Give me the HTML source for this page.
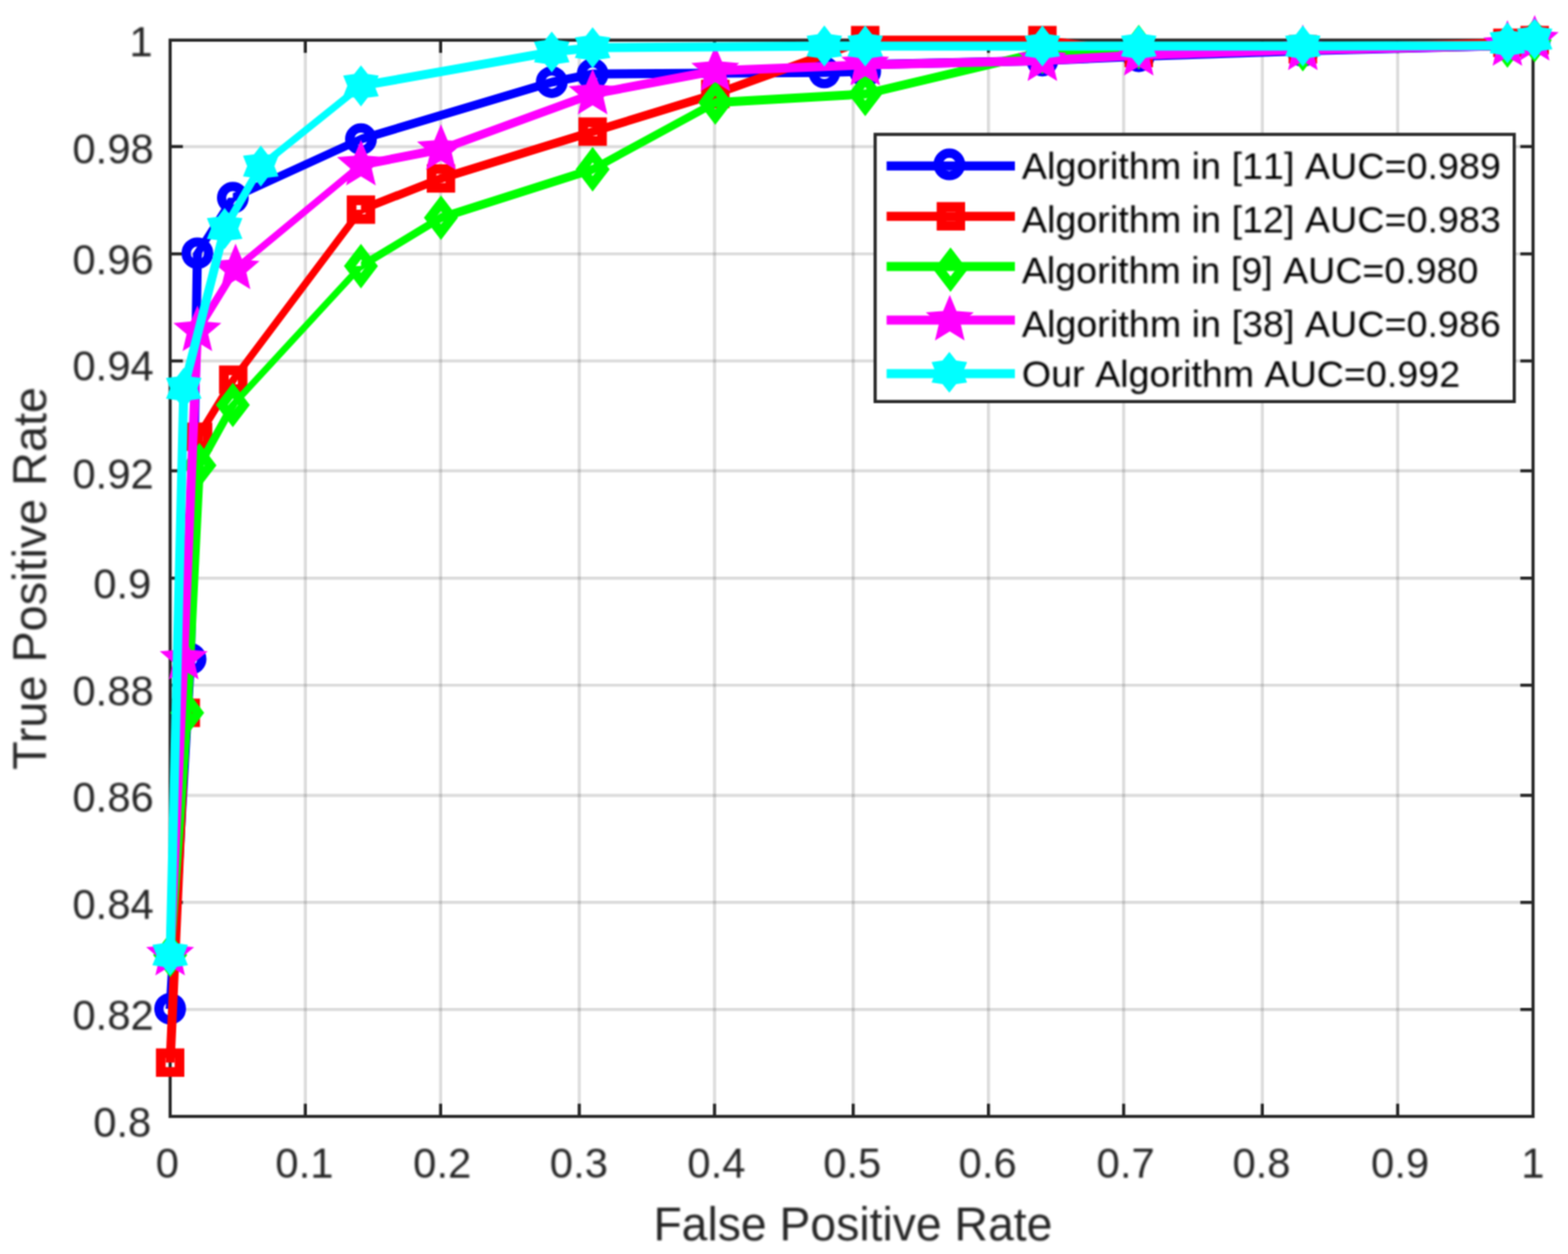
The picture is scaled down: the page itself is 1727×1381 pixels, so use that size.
<!DOCTYPE html>
<html lang="en">
<head>
<meta charset="utf-8">
<title>ROC curves</title>
<style>
html,body{margin:0;padding:0;background:#fff;}
body{width:1727px;height:1381px;overflow:hidden;}
svg{display:block;font-family:"Liberation Sans",Arial,Helvetica,sans-serif;}
.tick text{font-size:46px;}
.lab{font-size:51px;}
.laby{font-size:51.5px;}
.leg{font-size:41.4px;fill:#000;font-kerning:none;}
</style>
</head>
<body>
<svg width="1727" height="1381" viewBox="0 0 1727 1381">
<defs>
<filter id="soft" x="-2%" y="-2%" width="104%" height="104%" color-interpolation-filters="sRGB"><feConvolveMatrix order="3" kernelMatrix="1 2 1 2 4 2 1 2 1" divisor="16" edgeMode="duplicate" preserveAlpha="false"/></filter>
<filter id="tsoft" x="-2%" y="-2%" width="104%" height="104%" color-interpolation-filters="sRGB"><feGaussianBlur stdDeviation="0.9"/></filter>
<g id="m-circle"><circle r="12.4" fill="none" stroke-width="10.2"/></g>
<g id="m-square"><rect x="-10.3" y="-10.3" width="20.6" height="20.6" fill="none" stroke-width="10.7"/></g>
<g id="m-diamond"><polygon points="0,-16 12.2,0 0,16 -12.2,0" fill="none" stroke-width="10.4" stroke-linejoin="miter"/></g>
<g id="m-penta"><polygon points="0.00,-27.80 7.35,-10.11 26.44,-8.59 11.89,3.86 16.34,22.49 0.00,12.50 -16.34,22.49 -11.89,3.86 -26.44,-8.59 -7.35,-10.11" stroke="none"/></g>
<g id="m-hexa"><polygon points="0.00,-22.60 7.50,-12.99 19.57,-11.30 15.00,0.00 19.57,11.30 7.50,12.99 0.00,22.60 -7.50,12.99 -19.57,11.30 -15.00,0.00 -19.57,-11.30 -7.50,-12.99" stroke="none"/></g>
</defs>
<rect width="1727" height="1381" fill="#fff"/>
<g id="plot" filter="url(#soft)">
<g stroke="#262626" stroke-opacity="0.16" stroke-width="3.45" fill="none">
<line x1="336.30" y1="44.2" x2="336.30" y2="1229.5"/>
<line x1="485.30" y1="44.2" x2="485.30" y2="1229.5"/>
<line x1="638.00" y1="44.2" x2="638.00" y2="1229.5"/>
<line x1="787.00" y1="44.2" x2="787.00" y2="1229.5"/>
<line x1="939.70" y1="44.2" x2="939.70" y2="1229.5"/>
<line x1="1088.70" y1="44.2" x2="1088.70" y2="1229.5"/>
<line x1="1237.60" y1="44.2" x2="1237.60" y2="1229.5"/>
<line x1="1390.30" y1="44.2" x2="1390.30" y2="1229.5"/>
<line x1="1539.40" y1="44.2" x2="1539.40" y2="1229.5"/>
<line x1="187.4" y1="1111.70" x2="1688.5" y2="1111.70"/>
<line x1="187.4" y1="993.80" x2="1688.5" y2="993.80"/>
<line x1="187.4" y1="875.90" x2="1688.5" y2="875.90"/>
<line x1="187.4" y1="754.60" x2="1688.5" y2="754.60"/>
<line x1="187.4" y1="636.70" x2="1688.5" y2="636.70"/>
<line x1="187.4" y1="518.50" x2="1688.5" y2="518.50"/>
<line x1="187.4" y1="397.50" x2="1688.5" y2="397.50"/>
<line x1="187.4" y1="279.60" x2="1688.5" y2="279.60"/>
<line x1="187.4" y1="161.40" x2="1688.5" y2="161.40"/>
</g>
<g stroke="#262626" stroke-width="3.45" fill="none" stroke-linecap="butt">
<rect x="187.4" y="44.2" width="1501.10" height="1185.30"/>
<line x1="336.30" y1="1229.5" x2="336.30" y2="1215.5"/>
<line x1="336.30" y1="44.2" x2="336.30" y2="58.2"/>
<line x1="485.30" y1="1229.5" x2="485.30" y2="1215.5"/>
<line x1="485.30" y1="44.2" x2="485.30" y2="58.2"/>
<line x1="638.00" y1="1229.5" x2="638.00" y2="1215.5"/>
<line x1="638.00" y1="44.2" x2="638.00" y2="58.2"/>
<line x1="787.00" y1="1229.5" x2="787.00" y2="1215.5"/>
<line x1="787.00" y1="44.2" x2="787.00" y2="58.2"/>
<line x1="939.70" y1="1229.5" x2="939.70" y2="1215.5"/>
<line x1="939.70" y1="44.2" x2="939.70" y2="58.2"/>
<line x1="1088.70" y1="1229.5" x2="1088.70" y2="1215.5"/>
<line x1="1088.70" y1="44.2" x2="1088.70" y2="58.2"/>
<line x1="1237.60" y1="1229.5" x2="1237.60" y2="1215.5"/>
<line x1="1237.60" y1="44.2" x2="1237.60" y2="58.2"/>
<line x1="1390.30" y1="1229.5" x2="1390.30" y2="1215.5"/>
<line x1="1390.30" y1="44.2" x2="1390.30" y2="58.2"/>
<line x1="1539.40" y1="1229.5" x2="1539.40" y2="1215.5"/>
<line x1="1539.40" y1="44.2" x2="1539.40" y2="58.2"/>
<line x1="187.4" y1="1111.70" x2="201.4" y2="1111.70"/>
<line x1="1688.5" y1="1111.70" x2="1674.5" y2="1111.70"/>
<line x1="187.4" y1="993.80" x2="201.4" y2="993.80"/>
<line x1="1688.5" y1="993.80" x2="1674.5" y2="993.80"/>
<line x1="187.4" y1="875.90" x2="201.4" y2="875.90"/>
<line x1="1688.5" y1="875.90" x2="1674.5" y2="875.90"/>
<line x1="187.4" y1="754.60" x2="201.4" y2="754.60"/>
<line x1="1688.5" y1="754.60" x2="1674.5" y2="754.60"/>
<line x1="187.4" y1="636.70" x2="201.4" y2="636.70"/>
<line x1="1688.5" y1="636.70" x2="1674.5" y2="636.70"/>
<line x1="187.4" y1="518.50" x2="201.4" y2="518.50"/>
<line x1="1688.5" y1="518.50" x2="1674.5" y2="518.50"/>
<line x1="187.4" y1="397.50" x2="201.4" y2="397.50"/>
<line x1="1688.5" y1="397.50" x2="1674.5" y2="397.50"/>
<line x1="187.4" y1="279.60" x2="201.4" y2="279.60"/>
<line x1="1688.5" y1="279.60" x2="1674.5" y2="279.60"/>
<line x1="187.4" y1="161.40" x2="201.4" y2="161.40"/>
<line x1="1688.5" y1="161.40" x2="1674.5" y2="161.40"/>
</g>
<g stroke="#0000ff" fill="#0000ff">
<path d="M182.40 1110.97 L204.92 725.75 L214.92 725.75 L192.40 1110.97Z M204.92 725.75 L212.42 278.89 L222.42 278.89 L214.92 725.75Z M212.42 278.89 L251.45 217.85 L261.45 217.85 L222.42 278.89Z M256.45 212.85 L397.55 148.25 L397.55 158.25 L256.45 222.85Z M397.55 148.25 L607.71 85.43 L607.71 95.43 L397.55 158.25Z M607.71 85.43 L652.74 76.54 L652.74 86.54 L607.71 95.43Z M652.74 76.54 L907.93 74.76 L907.93 84.76 L652.74 86.54Z M907.93 74.76 L952.96 73.57 L952.96 83.57 L907.93 84.76Z M952.96 73.57 L970.97 65.87 L970.97 75.87 L952.96 83.57Z M970.97 65.87 L1148.10 61.72 L1148.10 71.72 L970.97 75.87Z M1148.10 61.72 L1254.23 56.98 L1254.23 66.98 L1148.10 71.72Z M1254.23 56.98 L1434.96 51.05 L1434.96 61.05 L1254.23 66.98Z M1434.96 51.05 L1660.28 45.13 L1660.28 55.13 L1434.96 61.05Z M1660.28 45.13 L1690.30 39.20 L1690.30 49.20 L1660.28 55.13Z" stroke="none"/>
<use href="#m-circle" x="187.40" y="1110.97"/>
<use href="#m-circle" x="209.92" y="725.75"/>
<use href="#m-circle" x="217.42" y="278.89"/>
<use href="#m-circle" x="256.45" y="217.85"/>
<use href="#m-circle" x="397.55" y="153.25"/>
<use href="#m-circle" x="607.71" y="90.43"/>
<use href="#m-circle" x="652.74" y="81.54"/>
<use href="#m-circle" x="907.93" y="79.76"/>
<use href="#m-circle" x="952.96" y="78.57"/>
<use href="#m-circle" x="1148.10" y="66.72"/>
<use href="#m-circle" x="1254.23" y="61.98"/>
<use href="#m-circle" x="1434.96" y="56.05"/>
<use href="#m-circle" x="1660.28" y="50.13"/>
<use href="#m-circle" x="1690.30" y="44.20"/>
</g>
<g stroke="#ff0000" fill="#ff0000">
<path d="M182.40 1170.23 L199.66 785.01 L209.66 785.01 L192.40 1170.23Z M199.66 785.01 L213.17 480.98 L223.17 480.98 L209.66 785.01Z M213.17 480.98 L251.90 418.16 L261.90 418.16 L223.17 480.98Z M251.90 418.16 L392.55 230.88 L402.55 230.88 L261.90 418.16Z M397.55 225.88 L485.67 191.51 L485.67 201.51 L397.55 235.88Z M485.67 191.51 L652.74 139.95 L652.74 149.95 L485.67 201.51Z M652.74 139.95 L787.84 98.47 L787.84 108.47 L652.74 149.95Z M787.84 98.47 L952.96 39.20 L952.96 49.20 L787.84 108.47Z M952.96 39.20 L1148.10 39.20 L1148.10 49.20 L952.96 49.20Z M1148.10 39.20 L1254.23 53.42 L1254.23 63.42 L1148.10 49.20Z M1254.23 53.42 L1434.96 49.28 L1434.96 59.28 L1254.23 63.42Z M1434.96 49.28 L1660.28 42.16 L1660.28 52.16 L1434.96 59.28Z M1660.28 42.16 L1690.30 39.20 L1690.30 49.20 L1660.28 52.16Z" stroke="none"/>
<use href="#m-square" x="187.40" y="1170.23"/>
<use href="#m-square" x="204.66" y="785.01"/>
<use href="#m-square" x="218.17" y="480.98"/>
<use href="#m-square" x="256.90" y="418.16"/>
<use href="#m-square" x="397.55" y="230.88"/>
<use href="#m-square" x="485.67" y="196.51"/>
<use href="#m-square" x="652.74" y="144.95"/>
<use href="#m-square" x="787.84" y="103.47"/>
<use href="#m-square" x="952.96" y="44.20"/>
<use href="#m-square" x="1148.10" y="44.20"/>
<use href="#m-square" x="1254.23" y="58.42"/>
<use href="#m-square" x="1434.96" y="54.28"/>
<use href="#m-square" x="1660.28" y="47.16"/>
<use href="#m-square" x="1690.30" y="44.20"/>
</g>
<g stroke="#00ff00" fill="#00ff00">
<path d="M182.40 1051.71 L201.16 785.01 L211.16 785.01 L192.40 1051.71Z M201.16 785.01 L214.67 512.39 L224.67 512.39 L211.16 785.01Z M214.67 512.39 L251.45 446.02 L261.45 446.02 L224.67 512.39Z M251.45 446.02 L392.55 293.11 L402.55 293.11 L261.45 446.02Z M397.55 288.11 L485.67 234.77 L485.67 244.77 L397.55 298.11Z M485.67 234.77 L652.74 181.44 L652.74 191.44 L485.67 244.77Z M652.74 181.44 L787.84 107.95 L787.84 117.95 L652.74 191.44Z M787.84 107.95 L952.96 98.47 L952.96 108.47 L787.84 117.95Z M952.96 98.47 L1148.10 52.24 L1148.10 62.24 L952.96 108.47Z M1148.10 52.24 L1254.23 46.90 L1254.23 56.90 L1148.10 62.24Z M1254.23 46.90 L1434.96 49.28 L1434.96 59.28 L1254.23 56.90Z M1434.96 49.28 L1660.28 45.13 L1660.28 55.13 L1434.96 59.28Z M1660.28 45.13 L1690.30 39.20 L1690.30 49.20 L1660.28 55.13Z" stroke="none"/>
<use href="#m-diamond" x="187.40" y="1051.71"/>
<use href="#m-diamond" x="206.16" y="785.01"/>
<use href="#m-diamond" x="219.67" y="512.39"/>
<use href="#m-diamond" x="256.45" y="446.02"/>
<use href="#m-diamond" x="397.55" y="293.11"/>
<use href="#m-diamond" x="485.67" y="239.77"/>
<use href="#m-diamond" x="652.74" y="186.44"/>
<use href="#m-diamond" x="787.84" y="112.95"/>
<use href="#m-diamond" x="952.96" y="103.47"/>
<use href="#m-diamond" x="1148.10" y="57.24"/>
<use href="#m-diamond" x="1254.23" y="51.90"/>
<use href="#m-diamond" x="1434.96" y="54.28"/>
<use href="#m-diamond" x="1660.28" y="50.13"/>
<use href="#m-diamond" x="1690.30" y="44.20"/>
</g>
<g stroke="#ff00ff" fill="#ff00ff">
<path d="M182.40 1051.71 L197.41 725.75 L207.41 725.75 L192.40 1051.71Z M197.41 725.75 L212.42 364.23 L222.42 364.23 L207.41 725.75Z M212.42 364.23 L254.45 296.08 L264.45 296.08 L222.42 364.23Z M259.45 291.08 L397.55 176.69 L397.55 186.69 L259.45 301.08Z M397.55 176.69 L485.67 159.51 L485.67 169.51 L397.55 186.69Z M485.67 159.51 L652.74 98.47 L652.74 108.47 L485.67 169.51Z M652.74 98.47 L787.84 72.98 L787.84 82.98 L652.74 108.47Z M787.84 72.98 L952.96 66.46 L952.96 76.46 L787.84 82.98Z M952.96 66.46 L1148.10 61.72 L1148.10 71.72 L952.96 76.46Z M1148.10 61.72 L1254.23 55.79 L1254.23 65.79 L1148.10 71.72Z M1254.23 55.79 L1434.96 49.87 L1434.96 59.87 L1254.23 65.79Z M1434.96 49.87 L1660.28 45.13 L1660.28 55.13 L1434.96 59.87Z M1660.28 45.13 L1690.30 39.20 L1690.30 49.20 L1660.28 55.13Z" stroke="none"/>
<use href="#m-penta" x="187.40" y="1051.71"/>
<use href="#m-penta" x="202.41" y="725.75"/>
<use href="#m-penta" x="217.42" y="364.23"/>
<use href="#m-penta" x="259.45" y="296.08"/>
<use href="#m-penta" x="397.55" y="181.69"/>
<use href="#m-penta" x="485.67" y="164.51"/>
<use href="#m-penta" x="652.74" y="103.47"/>
<use href="#m-penta" x="787.84" y="77.98"/>
<use href="#m-penta" x="952.96" y="71.46"/>
<use href="#m-penta" x="1148.10" y="66.72"/>
<use href="#m-penta" x="1254.23" y="60.79"/>
<use href="#m-penta" x="1434.96" y="54.87"/>
<use href="#m-penta" x="1660.28" y="50.13"/>
<use href="#m-penta" x="1690.30" y="44.20"/>
</g>
<g stroke="#00ffff" fill="#00ffff">
<path d="M182.40 1051.71 L197.41 427.64 L207.41 427.64 L192.40 1051.71Z M197.41 427.64 L242.44 251.63 L252.44 251.63 L207.41 427.64Z M242.44 251.63 L282.22 182.88 L292.22 182.88 L252.44 251.63Z M287.22 177.88 L397.55 89.58 L397.55 99.58 L287.22 187.88Z M397.55 89.58 L607.71 52.24 L607.71 62.24 L397.55 99.58Z M607.71 52.24 L652.74 47.50 L652.74 57.50 L607.71 62.24Z M652.74 47.50 L907.93 45.72 L907.93 55.72 L652.74 57.50Z M907.93 45.72 L952.96 45.72 L952.96 55.72 L907.93 55.72Z M952.96 45.72 L1148.10 45.72 L1148.10 55.72 L952.96 55.72Z M1148.10 45.72 L1254.23 45.72 L1254.23 55.72 L1148.10 55.72Z M1254.23 45.72 L1434.96 45.72 L1434.96 55.72 L1254.23 55.72Z M1434.96 45.72 L1640.46 45.13 L1640.46 55.13 L1434.96 55.72Z M1640.46 45.13 L1660.28 42.16 L1660.28 52.16 L1640.46 55.13Z M1660.28 42.16 L1690.30 38.01 L1690.30 48.01 L1660.28 52.16Z" stroke="none"/>
<use href="#m-hexa" x="187.40" y="1051.71"/>
<use href="#m-hexa" x="202.41" y="427.64"/>
<use href="#m-hexa" x="247.44" y="251.63"/>
<use href="#m-hexa" x="287.22" y="182.88"/>
<use href="#m-hexa" x="397.55" y="94.58"/>
<use href="#m-hexa" x="607.71" y="57.24"/>
<use href="#m-hexa" x="652.74" y="52.50"/>
<use href="#m-hexa" x="907.93" y="50.72"/>
<use href="#m-hexa" x="952.96" y="50.72"/>
<use href="#m-hexa" x="1148.10" y="50.72"/>
<use href="#m-hexa" x="1254.23" y="50.72"/>
<use href="#m-hexa" x="1434.96" y="50.72"/>
<use href="#m-hexa" x="1660.28" y="47.16"/>
<use href="#m-hexa" x="1690.30" y="43.01"/>
</g>
<rect x="963.9" y="148.0" width="703.90" height="294.20" fill="#fff" stroke="#262626" stroke-width="3.45"/>
<g stroke="#0000ff" fill="#0000ff"><line x1="976.5" y1="182.8" x2="1117.8" y2="182.8" stroke-width="10.0"/><use href="#m-circle" x="1045.6" y="181.10"/></g>
<g stroke="#ff0000" fill="#ff0000"><line x1="976.5" y1="238.2" x2="1117.8" y2="238.2" stroke-width="10.0"/><use href="#m-square" x="1047.3" y="238.20"/></g>
<g stroke="#00ff00" fill="#00ff00"><line x1="976.5" y1="293.5" x2="1117.8" y2="293.5" stroke-width="10.0"/><use href="#m-diamond" x="1046.9" y="297.00"/></g>
<g stroke="#ff00ff" fill="#ff00ff"><line x1="976.5" y1="352.5" x2="1117.8" y2="352.5" stroke-width="10.0"/><use href="#m-penta" x="1046.1" y="352.50"/></g>
<g stroke="#00ffff" fill="#00ffff"><line x1="976.5" y1="411.5" x2="1117.8" y2="411.5" stroke-width="10.0"/><use href="#m-hexa" x="1045.6" y="410.00"/></g>
</g>
<g id="labels" filter="url(#tsoft)">
<g class="tick" fill="#262626">
<text x="171.4" y="1297">0</text>
<text x="303.3" y="1297">0.1</text>
<text x="455.1" y="1297">0.2</text>
<text x="605.6" y="1297">0.3</text>
<text x="757.1" y="1297">0.4</text>
<text x="906.7" y="1297">0.5</text>
<text x="1055.8" y="1297">0.6</text>
<text x="1207.8" y="1297">0.7</text>
<text x="1357.5" y="1297">0.8</text>
<text x="1510.1" y="1297">0.9</text>
<text x="1675.6" y="1297">1</text>
<text x="166.6" y="1251.8" text-anchor="end">0.8</text>
<text x="169.3" y="1134.3" text-anchor="end">0.82</text>
<text x="169.3" y="1012.4" text-anchor="end">0.84</text>
<text x="169.3" y="894.3" text-anchor="end">0.86</text>
<text x="169.3" y="776.9" text-anchor="end">0.88</text>
<text x="166.6" y="658.8" text-anchor="end">0.9</text>
<text x="169.3" y="537.5" text-anchor="end">0.92</text>
<text x="169.3" y="419.4" text-anchor="end">0.94</text>
<text x="169.3" y="301.5" text-anchor="end">0.96</text>
<text x="169.3" y="180.3" text-anchor="end">0.98</text>
<text x="168.0" y="62.2" text-anchor="end">1</text>
</g>
<text class="lab" fill="#262626" x="939.4" y="1366" text-anchor="middle">False Positive Rate</text>
<text class="lab laby" fill="#262626" transform="translate(50.6,637.1) rotate(-90)" text-anchor="middle">True Positive Rate</text>
<text class="leg" x="1125.5" y="197.20" textLength="527.5" lengthAdjust="spacing">Algorithm in [11] AUC=0.989</text>
<text class="leg" x="1125.5" y="256.00" textLength="527.5" lengthAdjust="spacing">Algorithm in [12] AUC=0.983</text>
<text class="leg" x="1125.5" y="311.70" textLength="502.9" lengthAdjust="spacing">Algorithm in [9] AUC=0.980</text>
<text class="leg" x="1125.5" y="370.50" textLength="527.5" lengthAdjust="spacing">Algorithm in [38] AUC=0.986</text>
<text class="leg" x="1125.5" y="426.10" textLength="482.7" lengthAdjust="spacing">Our Algorithm AUC=0.992</text>
</g>
</svg>
</body>
</html>
